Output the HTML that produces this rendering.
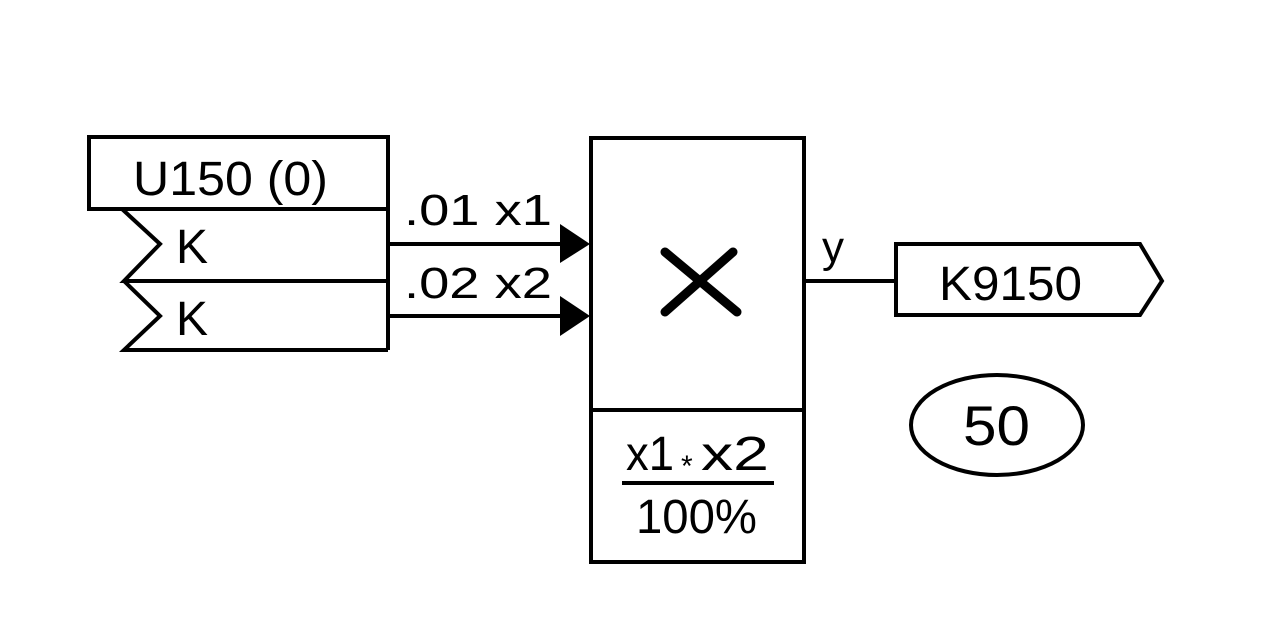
<!DOCTYPE html>
<html><head><meta charset="utf-8"><style>body{margin:0;background:#fff}svg{display:block}</style></head>
<body>
<svg width="1264" height="620" viewBox="0 0 1264 620" xmlns="http://www.w3.org/2000/svg" font-family="Liberation Sans, sans-serif" fill="#000">
<g stroke="#000" stroke-width="4" fill="none" stroke-linejoin="miter">
<rect x="89" y="137" width="299" height="72"/>
<line x1="388" y1="209" x2="388" y2="350"/>
<polyline points="388,209 122,209 160,244 124,281 388,281"/>
<polyline points="124,281 160,316 124,350 388,350"/>
<line x1="388" y1="244" x2="565" y2="244"/>
<line x1="388" y1="316" x2="565" y2="316"/>
<rect x="591" y="138" width="213" height="424"/>
<line x1="591" y1="410" x2="804" y2="410"/>
<line x1="804" y1="281" x2="896" y2="281"/>
<polygon points="896,244 1140,244 1162,281 1140,315 896,315"/>
<ellipse cx="997" cy="425" rx="86" ry="50"/>
<line x1="622" y1="483" x2="774" y2="483"/>
</g>
<polygon points="560,224 590,244 560,263"/>
<polygon points="560,296 590,316 560,336"/>
<g stroke="#000" stroke-width="9" stroke-linecap="round">
<line x1="665" y1="252" x2="737" y2="312"/>
<line x1="733" y1="252" x2="665" y2="312"/>
</g>
<g font-size="48">
<text x="133" y="195" textLength="195" lengthAdjust="spacingAndGlyphs">U150 (0)</text>
<text x="176" y="263">K</text>
<text x="176" y="335">K</text>
<text x="939" y="300" textLength="143" lengthAdjust="spacingAndGlyphs">K9150</text>
<text x="963" y="445" font-size="56" textLength="67" lengthAdjust="spacingAndGlyphs">50</text>
<text x="636" y="533" textLength="121" lengthAdjust="spacingAndGlyphs">100%</text>
</g>
<g font-size="44">
<text x="404" y="225" textLength="148" lengthAdjust="spacingAndGlyphs">.01  x1</text>
<text x="404" y="298" textLength="148" lengthAdjust="spacingAndGlyphs">.02  x2</text>
<text x="822" y="262">y</text>
<text x="626" y="470" font-size="48" textLength="48" lengthAdjust="spacingAndGlyphs">x1</text>
<text x="681" y="476" font-size="30">*</text>
<text x="701" y="470" font-size="48" textLength="68" lengthAdjust="spacingAndGlyphs">x2</text>
</g>
</svg>
</body></html>
